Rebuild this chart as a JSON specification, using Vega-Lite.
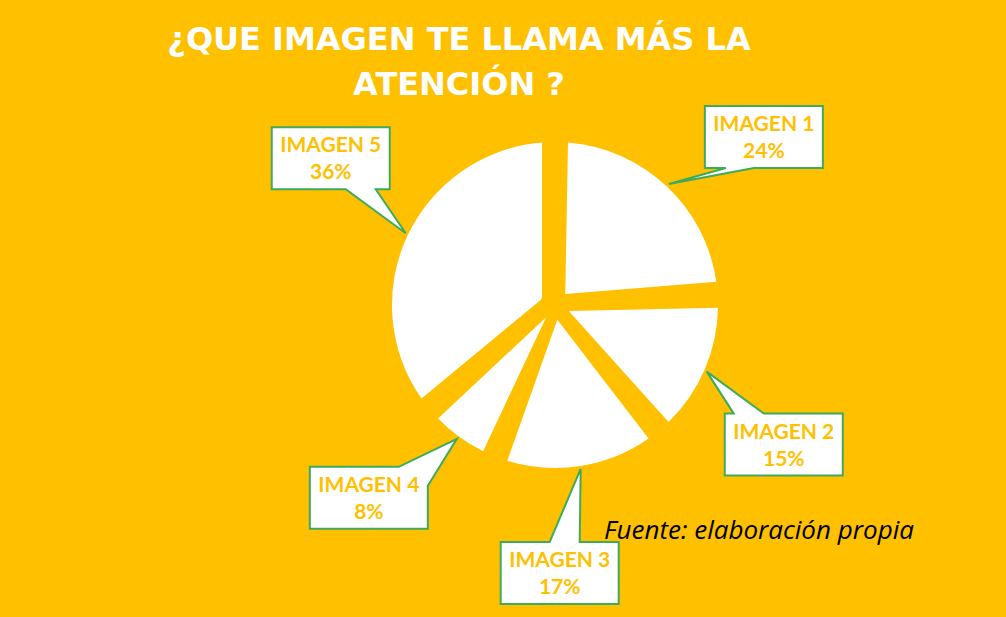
{
  "$schema": "https://vega.github.io/schema/vega-lite/v6.json",
  "width": 340,
  "height": 340,
  "autosize": "none",
  "padding": {"left": 385, "top": 135, "right": 281, "bottom": 142},
  "background": "#FFC000",
  "view": {"stroke": null},
  "title": {
    "text": ["¿QUE IMAGEN  TE LLAMA MÁS LA", "ATENCIÓN ?"],
    "font": "DejaVu Sans",
    "fontSize": 32,
    "fontWeight": "bold",
    "color": "white",
    "anchor": "middle",
    "frame": "group",
    "baseline": "bottom",
    "dx": -96,
    "offset": -32,
    "lineHeight": 45
  },
  "data": {
    "values": [
      {"imagen": "IMAGEN 1", "pct": 0.24},
      {"imagen": "IMAGEN 2", "pct": 0.15},
      {"imagen": "IMAGEN 3", "pct": 0.17},
      {"imagen": "IMAGEN 4", "pct": 0.08},
      {"imagen": "IMAGEN 5", "pct": 0.36}
    ]
  },
  "transform": [
    {"stack": "pct", "groupby": [], "sort": [{"field": "imagen"}], "as": ["s0", "s1"]}
  ],
  "layer": [
    {
      "mark": {"type": "arc", "outerRadius": 163, "innerRadius": 15, "padAngle": 0.159, "fill": "white"},
      "encoding": {
        "theta": {"field": "pct", "type": "quantitative", "stack": true},
        "order": {"field": "imagen"}
      }
    },
    {
      "mark": {
        "type": "point",
        "filled": true,
        "fill": "white",
        "stroke": "#3DAA5C",
        "strokeWidth": 2,
        "opacity": 1,
        "size": 40000,
        "x": {"expr": "width/2 + 268*sin(PI*(datum.s0+datum.s1) + 0.1396)"},
        "y": {"expr": "height/2 - 268*cos(PI*(datum.s0+datum.s1) + 0.1396)"}
      },
      "encoding": {
        "shape": {
          "field": "imagen",
          "type": "nominal",
          "legend": null,
          "scale": {
            "domain": ["IMAGEN 1", "IMAGEN 2", "IMAGEN 3", "IMAGEN 4", "IMAGEN 5"],
            "range": [
              "M-0.59,-0.31H0.59V0.31H-0.10L-0.95,0.47L-0.38,0.31H-0.59Z",
              "M-0.59,-0.31H-0.50L-0.77,-0.73L-0.20,-0.31H0.59V0.31H-0.59Z",
              "M-0.59,-0.31H-0.10L0.21,-1.04L0.20,-0.31H0.59V0.31H-0.59Z",
              "M-0.59,-0.31H0.30L0.88,-0.59L0.59,-0.12V0.31H-0.59Z",
              "M-0.59,-0.31H0.59V0.31H0.45L0.75,0.75L0.15,0.31H-0.59Z"
            ]
          }
        }
      }
    },
    {
      "mark": {"type": "text", "radius": 268, "thetaOffset": 0.1396, "dy": -12, "font": "Lato", "fontSize": 21, "fontWeight": "bold", "fill": "#FFC000", "baseline": "middle"},
      "encoding": {
        "theta": {"field": "pct", "type": "quantitative", "stack": true},
        "order": {"field": "imagen"},
        "text": {"field": "imagen"}
      }
    },
    {
      "mark": {"type": "text", "radius": 268, "thetaOffset": 0.1396, "dy": 15, "font": "Lato", "fontSize": 21, "fontWeight": "bold", "fill": "#FFC000", "baseline": "middle"},
      "encoding": {
        "theta": {"field": "pct", "type": "quantitative", "stack": true},
        "order": {"field": "imagen"},
        "text": {"field": "pct", "format": ".0%"}
      }
    },
    {
      "data": {"values": [{"note": "Fuente: elaboración propia"}]},
      "mark": {"type": "text", "x": 374, "y": 396, "font": "Open Sans", "fontSize": 26, "fontStyle": "italic", "fill": "black", "baseline": "middle", "align": "center"},
      "encoding": {"text": {"field": "note"}}
    }
  ]
}
